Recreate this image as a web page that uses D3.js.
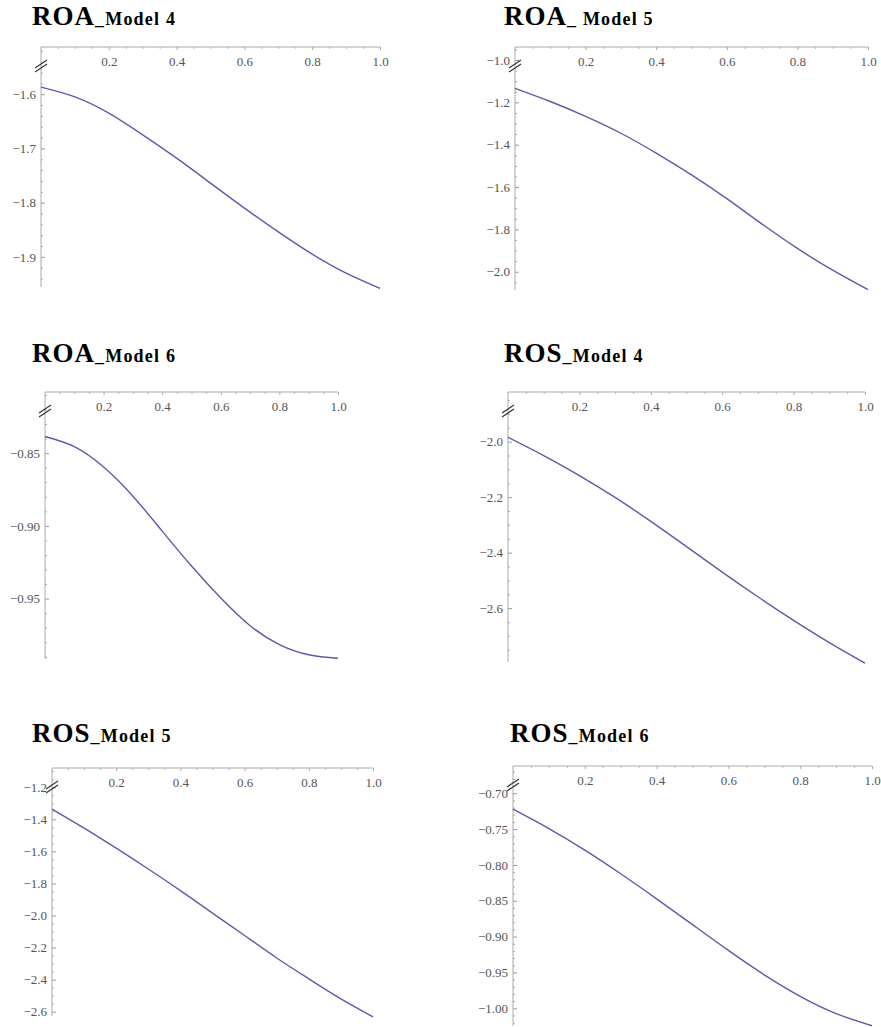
<!DOCTYPE html>
<html>
<head>
<meta charset="utf-8">
<script src="https://cdn.jsdelivr.net/npm/d3@7"></script>
<style>
body{margin:0;background:#fff}
svg{display:block}
</style>
</head>
<body>
<svg id="chart" width="881" height="1027"></svg>
<script>
// sample points along x (0..1)
var xValues = [0, 0.1, 0.2, 0.3, 0.4, 0.5, 0.6, 0.7, 0.8, 0.9, 1.0];

// curves
var roaModel4 = [-1.587, -1.605, -1.635, -1.675, -1.718, -1.764, -1.810, -1.854, -1.895, -1.930, -1.958];
var roaModel5 = [-1.134, -1.196, -1.266, -1.346, -1.440, -1.543, -1.655, -1.775, -1.890, -1.993, -2.085];
var roaModel6 = [-0.8386, -0.8456, -0.8596, -0.8796, -0.9036, -0.9276, -0.9496, -0.9686, -0.9816, -0.9886, -0.9910];
var rosModel4 = [-1.984, -2.050, -2.122, -2.201, -2.287, -2.378, -2.470, -2.559, -2.644, -2.724, -2.798];
var rosModel5 = [-1.336, -1.455, -1.580, -1.710, -1.845, -1.985, -2.125, -2.265, -2.395, -2.520, -2.632];
var rosModel6 = [-0.7223, -0.7493, -0.7793, -0.8123, -0.8473, -0.8833, -0.9193, -0.9533, -0.9833, -1.0073, -1.0243];

var xTicks = [0.2, 0.4, 0.6, 0.8, 1.0];

var titleMain = ["ROA", "ROA", "ROA", "ROS", "ROS", "ROS"];
var titleSub = ["_Model 4", "_ Model 5", "_Model 6", "_Model 4", "_Model 5", "_Model 6"];

var yTicks = [
  [-1.6, -1.7, -1.8, -1.9],
  [-1.0, -1.2, -1.4, -1.6, -1.8, -2.0],
  [-0.85, -0.90, -0.95],
  [-2.0, -2.2, -2.4, -2.6],
  [-1.2, -1.4, -1.6, -1.8, -2.0, -2.2, -2.4, -2.6],
  [-0.70, -0.75, -0.80, -0.85, -0.90, -0.95, -1.00]
];
var yMinorStep = [0.02, 0.05, 0.01, 0.05, 0.05, 0.01];
var yFormat = [".1f", ".1f", ".2f", ".1f", ".1f", ".2f"];
// y value at axis bottom / top
var yDomains = [
  [-1.9555, -1.513],
  [-2.0864, -0.9386],
  [-0.9915, -0.808],
  [-2.794, -1.821],
  [-2.627, -1.080],
  [-1.0247, -0.662]
];

var series = [roaModel4, roaModel5, roaModel6, rosModel4, rosModel5, rosModel6];

// where each small plot sits on the page
var layout = [
  {tx: 32, ty: 25, left: 41, right: 380, top: 47, bottom: 287},
  {tx: 504, ty: 25, left: 515, right: 868, top: 47, bottom: 290},
  {tx: 32, ty: 362, left: 45, right: 338, top: 392, bottom: 659},
  {tx: 504, ty: 362, left: 508, right: 865, top: 392, bottom: 662},
  {tx: 32, ty: 742, left: 52, right: 373, top: 768, bottom: 1016},
  {tx: 510, ty: 742, left: 513, right: 872, top: 766, bottom: 1026}
];

var serif = "'Liberation Serif', 'Times New Roman', serif";
var svg = d3.select("#chart");

series.forEach(function(vals, i){
  var L = layout[i];
  var g = svg.append("g");

  var x = d3.scaleLinear().domain([0, 1]).range([L.left, L.right]);
  var y = d3.scaleLinear().domain(yDomains[i]).range([L.bottom, L.top]);

  // title
  var t = g.append("text")
    .attr("x", L.tx).attr("y", L.ty)
    .attr("font-family", serif)
    .attr("font-weight", "bold")
    .attr("fill", "#000");
  t.append("tspan").attr("font-size", 27).attr("letter-spacing", 1).text(titleMain[i]);
  t.append("tspan").attr("font-size", 18).attr("letter-spacing", 1.2).text(titleSub[i]);

  // minor ticks on y
  var d = yDomains[i], step = yMinorStep[i];
  var minors = d3.range(Math.ceil(d[0] / step - 1e-6), Math.floor(d[1] / step + 1e-6) + 1)
    .map(function(k){ return k * step; })
    .filter(function(v){
      return !yTicks[i].some(function(m){ return Math.abs(m - v) < step / 10; });
    });

  g.append("g")
    .attr("transform", "translate(" + L.left + ",0)")
    .call(d3.axisLeft(y).tickValues(minors).tickSize(-2).tickFormat(""))
    .call(function(a){ a.select(".domain").remove(); a.selectAll("line").attr("stroke", "#aaa"); });

  var ya = g.append("g")
    .attr("transform", "translate(" + L.left + ",0)")
    .call(d3.axisLeft(y).tickValues(yTicks[i]).tickSize(-4).tickPadding(5).tickFormat(d3.format(yFormat[i])));
  ya.select(".domain").remove();
  ya.selectAll("line").attr("stroke", "#999");
  ya.selectAll("text")
    .attr("font-family", serif)
    .attr("font-size", 13)
    .attr("fill", "#555");

  // x axis along the top
  var xMinor = d3.range(1, 20).map(function(k){ return k * 0.05; })
    .filter(function(v){ return Math.abs(v * 5 - Math.round(v * 5)) > 1e-6; });
  g.append("g")
    .attr("transform", "translate(0," + L.top + ")")
    .call(d3.axisBottom(x).tickValues(xMinor).tickSize(2).tickFormat(""))
    .call(function(a){ a.select(".domain").remove(); a.selectAll("line").attr("stroke", "#bbb"); });

  var xa = g.append("g")
    .attr("transform", "translate(0," + L.top + ")")
    .call(d3.axisBottom(x).tickValues(xTicks).tickSize(3).tickPadding(7).tickFormat(d3.format(".1f")));
  xa.select(".domain").remove();
  xa.selectAll("line").attr("stroke", "#aaa");
  xa.selectAll("text")
    .attr("font-family", serif)
    .attr("font-size", 13)
    .attr("fill", "#555");

  // axis lines
  g.append("line")
    .attr("x1", L.left).attr("x2", L.right)
    .attr("y1", L.top).attr("y2", L.top)
    .attr("stroke", "#aaa").attr("stroke-width", 1);
  g.append("line")
    .attr("x1", L.left).attr("x2", L.left)
    .attr("y1", L.top).attr("y2", L.bottom)
    .attr("stroke", "#aaa").attr("stroke-width", 1);

  // axis break mark
  var cx = L.left, cy = L.top + 19;
  [-2, 2].forEach(function(o){
    g.append("line")
      .attr("x1", cx - 6).attr("y1", cy + o + 4)
      .attr("x2", cx + 6).attr("y2", cy + o - 4)
      .attr("stroke", "#333").attr("stroke-width", 1.2);
  });

  // the curve
  var line = d3.line()
    .x(function(v, k){ return x(xValues[k]); })
    .y(function(v){ return y(v); })
    .curve(d3.curveNatural);

  g.append("path")
    .datum(vals)
    .attr("d", line)
    .attr("fill", "none")
    .attr("stroke", "#5b5bab")
    .attr("stroke-width", 1.4);
});
</script>
</body>
</html>
